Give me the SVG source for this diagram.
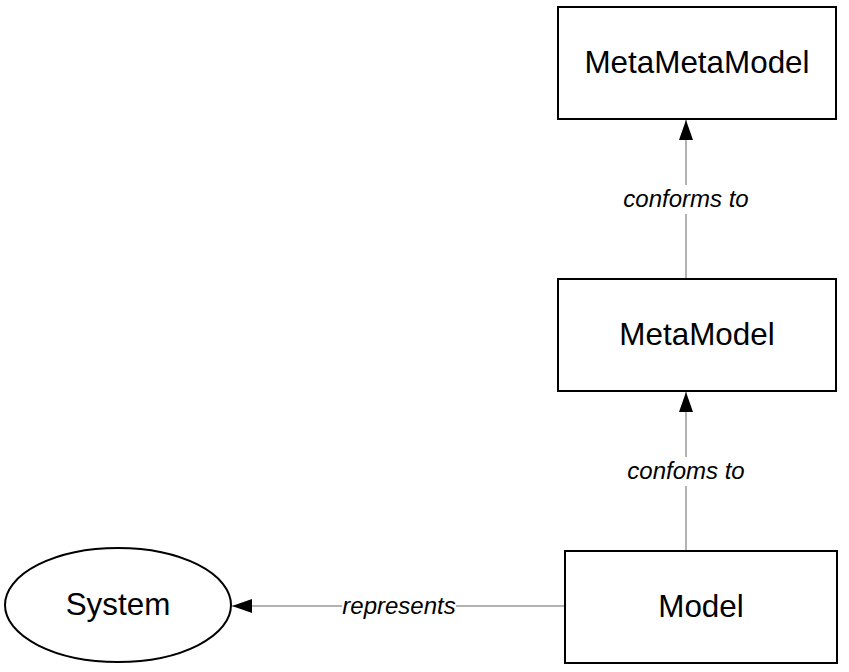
<svg xmlns="http://www.w3.org/2000/svg" width="849" height="672" viewBox="0 0 849 672">
<style>
.box{fill:#fff;stroke:#000;stroke-width:2}
.nl{font-family:"Liberation Sans",Arial,sans-serif;font-size:31.4px;fill:#000;text-anchor:middle}
.el{font-family:"Liberation Sans",Arial,sans-serif;font-size:24px;font-style:italic;fill:#000;text-anchor:middle}
.ln{stroke:#666;stroke-width:1;fill:none}
</style>
<defs>
<marker id="ah" markerWidth="20" markerHeight="16" refX="20" refY="8" orient="auto" markerUnits="userSpaceOnUse">
<path d="M0,1 L20,8 L0,15 Z" fill="#000"/>
</marker>
</defs>
<rect width="849" height="672" fill="#fff"/>
<g id="connectors">
<path class="ln" d="M686,185 L686,120" marker-end="url(#ah)"/>
<path class="ln" d="M686,279 L686,214"/>
<text class="el" x="686" y="207">conforms to</text>
<path class="ln" d="M686,457 L686,392" marker-end="url(#ah)"/>
<path class="ln" d="M686,551 L686,486"/>
<text class="el" x="686" y="479">confoms to</text>
<path class="ln" d="M565,606 L456,606"/>
<path class="ln" d="M342,606 L232,606" marker-end="url(#ah)"/>
<text class="el" x="399" y="614">represents</text>
</g>
<g id="metametamodel">
<rect class="box" x="558" y="7" width="278" height="112"/>
<text class="nl" x="697" y="73">MetaMetaModel</text>
</g>
<g id="metamodel">
<rect class="box" x="558" y="279" width="278" height="112"/>
<text class="nl" x="697" y="345">MetaModel</text>
</g>
<g id="model">
<rect class="box" x="565" y="551" width="272" height="112"/>
<text class="nl" x="701" y="617">Model</text>
</g>
<g id="system">
<ellipse class="box" cx="118" cy="605" rx="113" ry="57"/>
<text class="nl" x="118" y="615">System</text>
</g>
</svg>
